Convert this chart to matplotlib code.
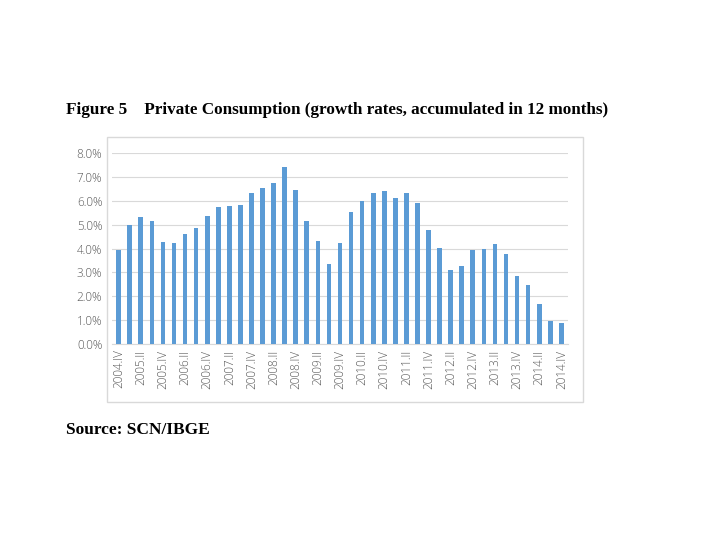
import matplotlib.pyplot as plt
from matplotlib.patches import Rectangle

# quarters 2004.IV .. 2014.IV
quarters = ['2004.IV',
            '2005.I', '2005.II', '2005.III', '2005.IV',
            '2006.I', '2006.II', '2006.III', '2006.IV',
            '2007.I', '2007.II', '2007.III', '2007.IV',
            '2008.I', '2008.II', '2008.III', '2008.IV',
            '2009.I', '2009.II', '2009.III', '2009.IV',
            '2010.I', '2010.II', '2010.III', '2010.IV',
            '2011.I', '2011.II', '2011.III', '2011.IV',
            '2012.I', '2012.II', '2012.III', '2012.IV',
            '2013.I', '2013.II', '2013.III', '2013.IV',
            '2014.I', '2014.II', '2014.III', '2014.IV']

growth = [3.92,
          5.00, 5.33, 5.17, 4.29,
          4.21, 4.60, 4.85, 5.38,
          5.72, 5.79, 5.83, 6.33,
          6.54, 6.75, 7.42, 6.46,
          5.17, 4.33, 3.33, 4.21,
          5.54, 5.99, 6.33, 6.42,
          6.13, 6.33, 5.90, 4.79,
          4.03, 3.10, 3.25, 3.92,
          3.96, 4.19, 3.75, 2.83,
          2.46, 1.67, 0.96, 0.88]

yticks = [0, 1, 2, 3, 4, 5, 6, 7, 8]

fig = plt.figure(figsize=(7.2, 5.4), dpi=100)

# chart frame
fig.patches.append(Rectangle((107 / 720, 1 - 402 / 540), 476 / 720, 265 / 540,
                             transform=fig.transFigure, fill=False,
                             edgecolor='#d9d9d9', linewidth=1))

ax = fig.add_axes([112 / 720, 1 - 344 / 540, 456 / 720, 191 / 540])
x = list(range(len(quarters)))
ax.bar(x, growth, width=0.42, color='#5b9bd5', zorder=3)

ax.set_xlim(-0.6, len(quarters) - 0.4)
ax.set_ylim(0, 8)
ax.set_yticks(yticks)
ax.set_yticklabels(['{:.1f}%'.format(v) for v in yticks])
ax.set_xticks(x[::2])
ax.set_xticklabels(quarters[::2], rotation=90)
ax.tick_params(axis='both', length=0, labelsize=8.5, labelcolor='#595959')
ax.tick_params(axis='y', pad=7)
ax.tick_params(axis='x', pad=4)
for lbl in ax.get_xticklabels() + ax.get_yticklabels():
    lbl.set_family('Open Sans')
    lbl.set_fontweight('light')

ax.grid(axis='y', color='#d9d9d9', linewidth=0.8, zorder=0)
for s in ['top', 'right', 'left']:
    ax.spines[s].set_visible(False)
ax.spines['bottom'].set_color('#d9d9d9')

fig.text(66 / 720, 1 - 110 / 540,
         'Figure 5    Private Consumption (growth rates, accumulated in 12 months)',
         family='Liberation Serif', fontweight='bold', fontsize=12.3,
         va='center', ha='left')
fig.text(66 / 720, 1 - 430 / 540, 'Source: SCN/IBGE',
         family='Liberation Serif', fontweight='bold', fontsize=12.5,
         va='center', ha='left')

fig.savefig('out.png', dpi=100)
